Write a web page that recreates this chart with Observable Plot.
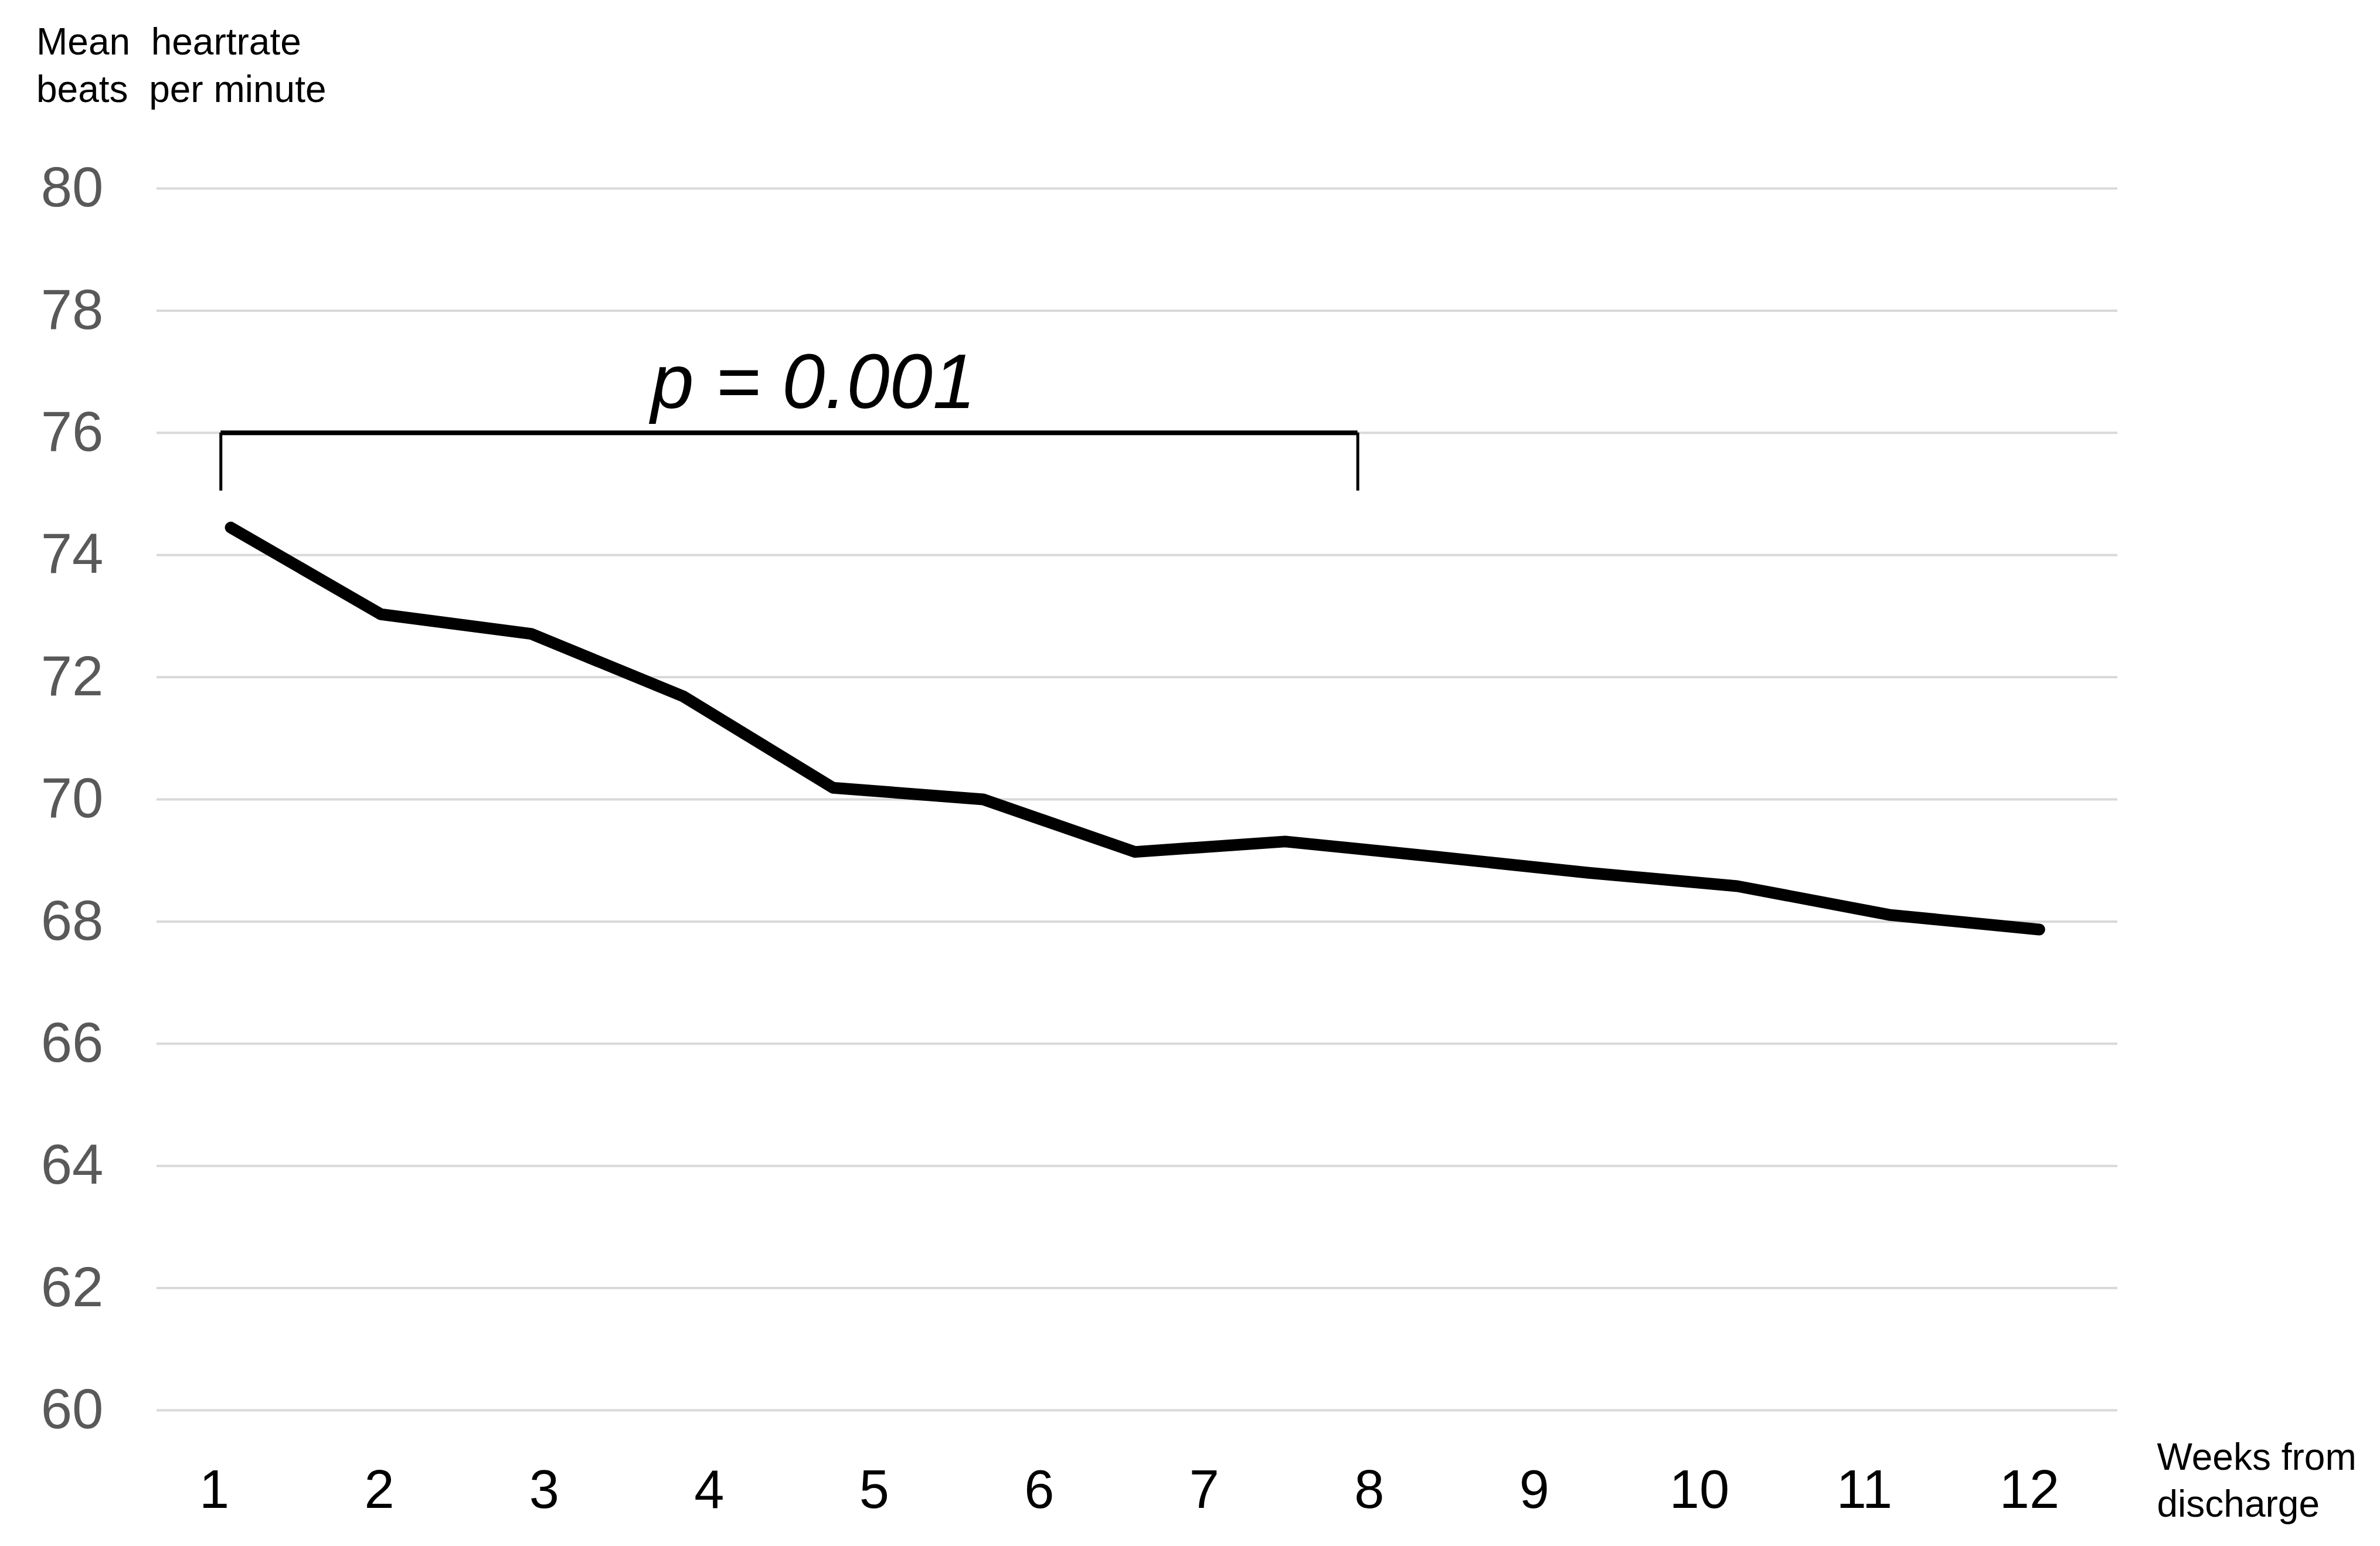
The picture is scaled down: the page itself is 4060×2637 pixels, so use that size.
<!DOCTYPE html>
<html>
<head>
<meta charset="utf-8">
<script src="https://cdn.jsdelivr.net/npm/d3@7"></script>
<script src="https://cdn.jsdelivr.net/npm/@observablehq/plot@0.6"></script>
<style>
  html, body { margin: 0; padding: 0; background: #ffffff; }
  #title {
    font-family: "Liberation Sans", Arial, sans-serif;
    font-size: 64px;
    line-height: 81px;
    color: #000;
    white-space: pre;
    padding: 31px 0 0 62px;
    height: 162px;
  }
  #chart svg { display: block; }
</style>
</head>
<body>
<div id="title"></div>
<div id="chart"></div>
<script>
// ---- data ----
const titleLines = ["Mean  heartrate", "beats  per minute"];
const xTitle = "Weeks from\ndischarge";
const weekTicks = [1, 2, 3, 4, 5, 6, 7, 8, 9, 10, 11, 12];
const yTicks = [60, 62, 64, 66, 68, 70, 72, 74, 76, 78, 80];
// positions of the 13 line vertices, in week-axis units
const lineWeeks = [1.10, 2.01, 2.92, 3.84, 4.75, 5.66, 6.58, 7.49, 8.41, 9.32, 10.23, 11.15, 12.06];
const heartRate = [74.45, 73.03, 72.71, 71.69, 70.19, 70.00, 69.14, 69.31, 69.06, 68.80, 68.58, 68.11, 67.87];
const bracketWeeks = [1.04, 7.93];
const bracketLevel = 76;
const bracketTickEnd = 75.05;
const pLabel = "p = 0.001";
const pWeek = 4.63;
const pLevel = 76.41;
const xDomain = [0.652, 12.535];
const yDomain = [60, 80];

document.getElementById("title").textContent = titleLines.join("\n");

const lineData = lineWeeks.map((w, i) => ({week: w, hr: heartRate[i]}));

const chart = Plot.plot({
  width: 4060,
  height: 2444,
  marginLeft: 267,
  marginRight: 448,
  marginTop: 128,
  marginBottom: 232,
  style: {fontFamily: "'Liberation Sans', Arial, sans-serif", background: "#ffffff", overflow: "visible"},
  x: {type: "linear", domain: xDomain},
  y: {type: "linear", domain: yDomain},
  marks: [
    Plot.gridY(yTicks, {stroke: "#d9d9d9", strokeOpacity: 1, strokeWidth: 4}),
    Plot.axisY(yTicks, {tickSize: 0, tickPadding: 91, fontSize: 96, color: "#595959", label: null, tickFormat: d => String(d)}),
    Plot.axisX(weekTicks, {tickSize: 0, tickPadding: 101, fontSize: 92, color: "#000000", label: null, tickFormat: d => String(d)}),
    Plot.ruleY([{y: bracketLevel, x1: bracketWeeks[0], x2: bracketWeeks[1]}], {y: "y", x1: "x1", x2: "x2", stroke: "#000", strokeWidth: 8}),
    Plot.ruleX(bracketWeeks, {x: d => d, y1: bracketTickEnd, y2: bracketLevel, stroke: "#000", strokeWidth: 5}),
    Plot.line(lineData, {x: "week", y: "hr", stroke: "#000", strokeWidth: 20, strokeLinecap: "round", strokeLinejoin: "round"}),
    Plot.text([pLabel], {x: pWeek, y: pLevel, text: d => d, fontSize: 132, fontStyle: "italic", textAnchor: "middle", lineAnchor: "bottom", fill: "#000"}),
    Plot.text([xTitle], {text: d => d, frameAnchor: "bottom-right", textAnchor: "start", lineAnchor: "top", dx: 67, dy: 45, fontSize: 64, lineHeight: 1.25, fill: "#000"})
  ]
});
document.getElementById("chart").appendChild(chart);
</script>
</body>
</html>
